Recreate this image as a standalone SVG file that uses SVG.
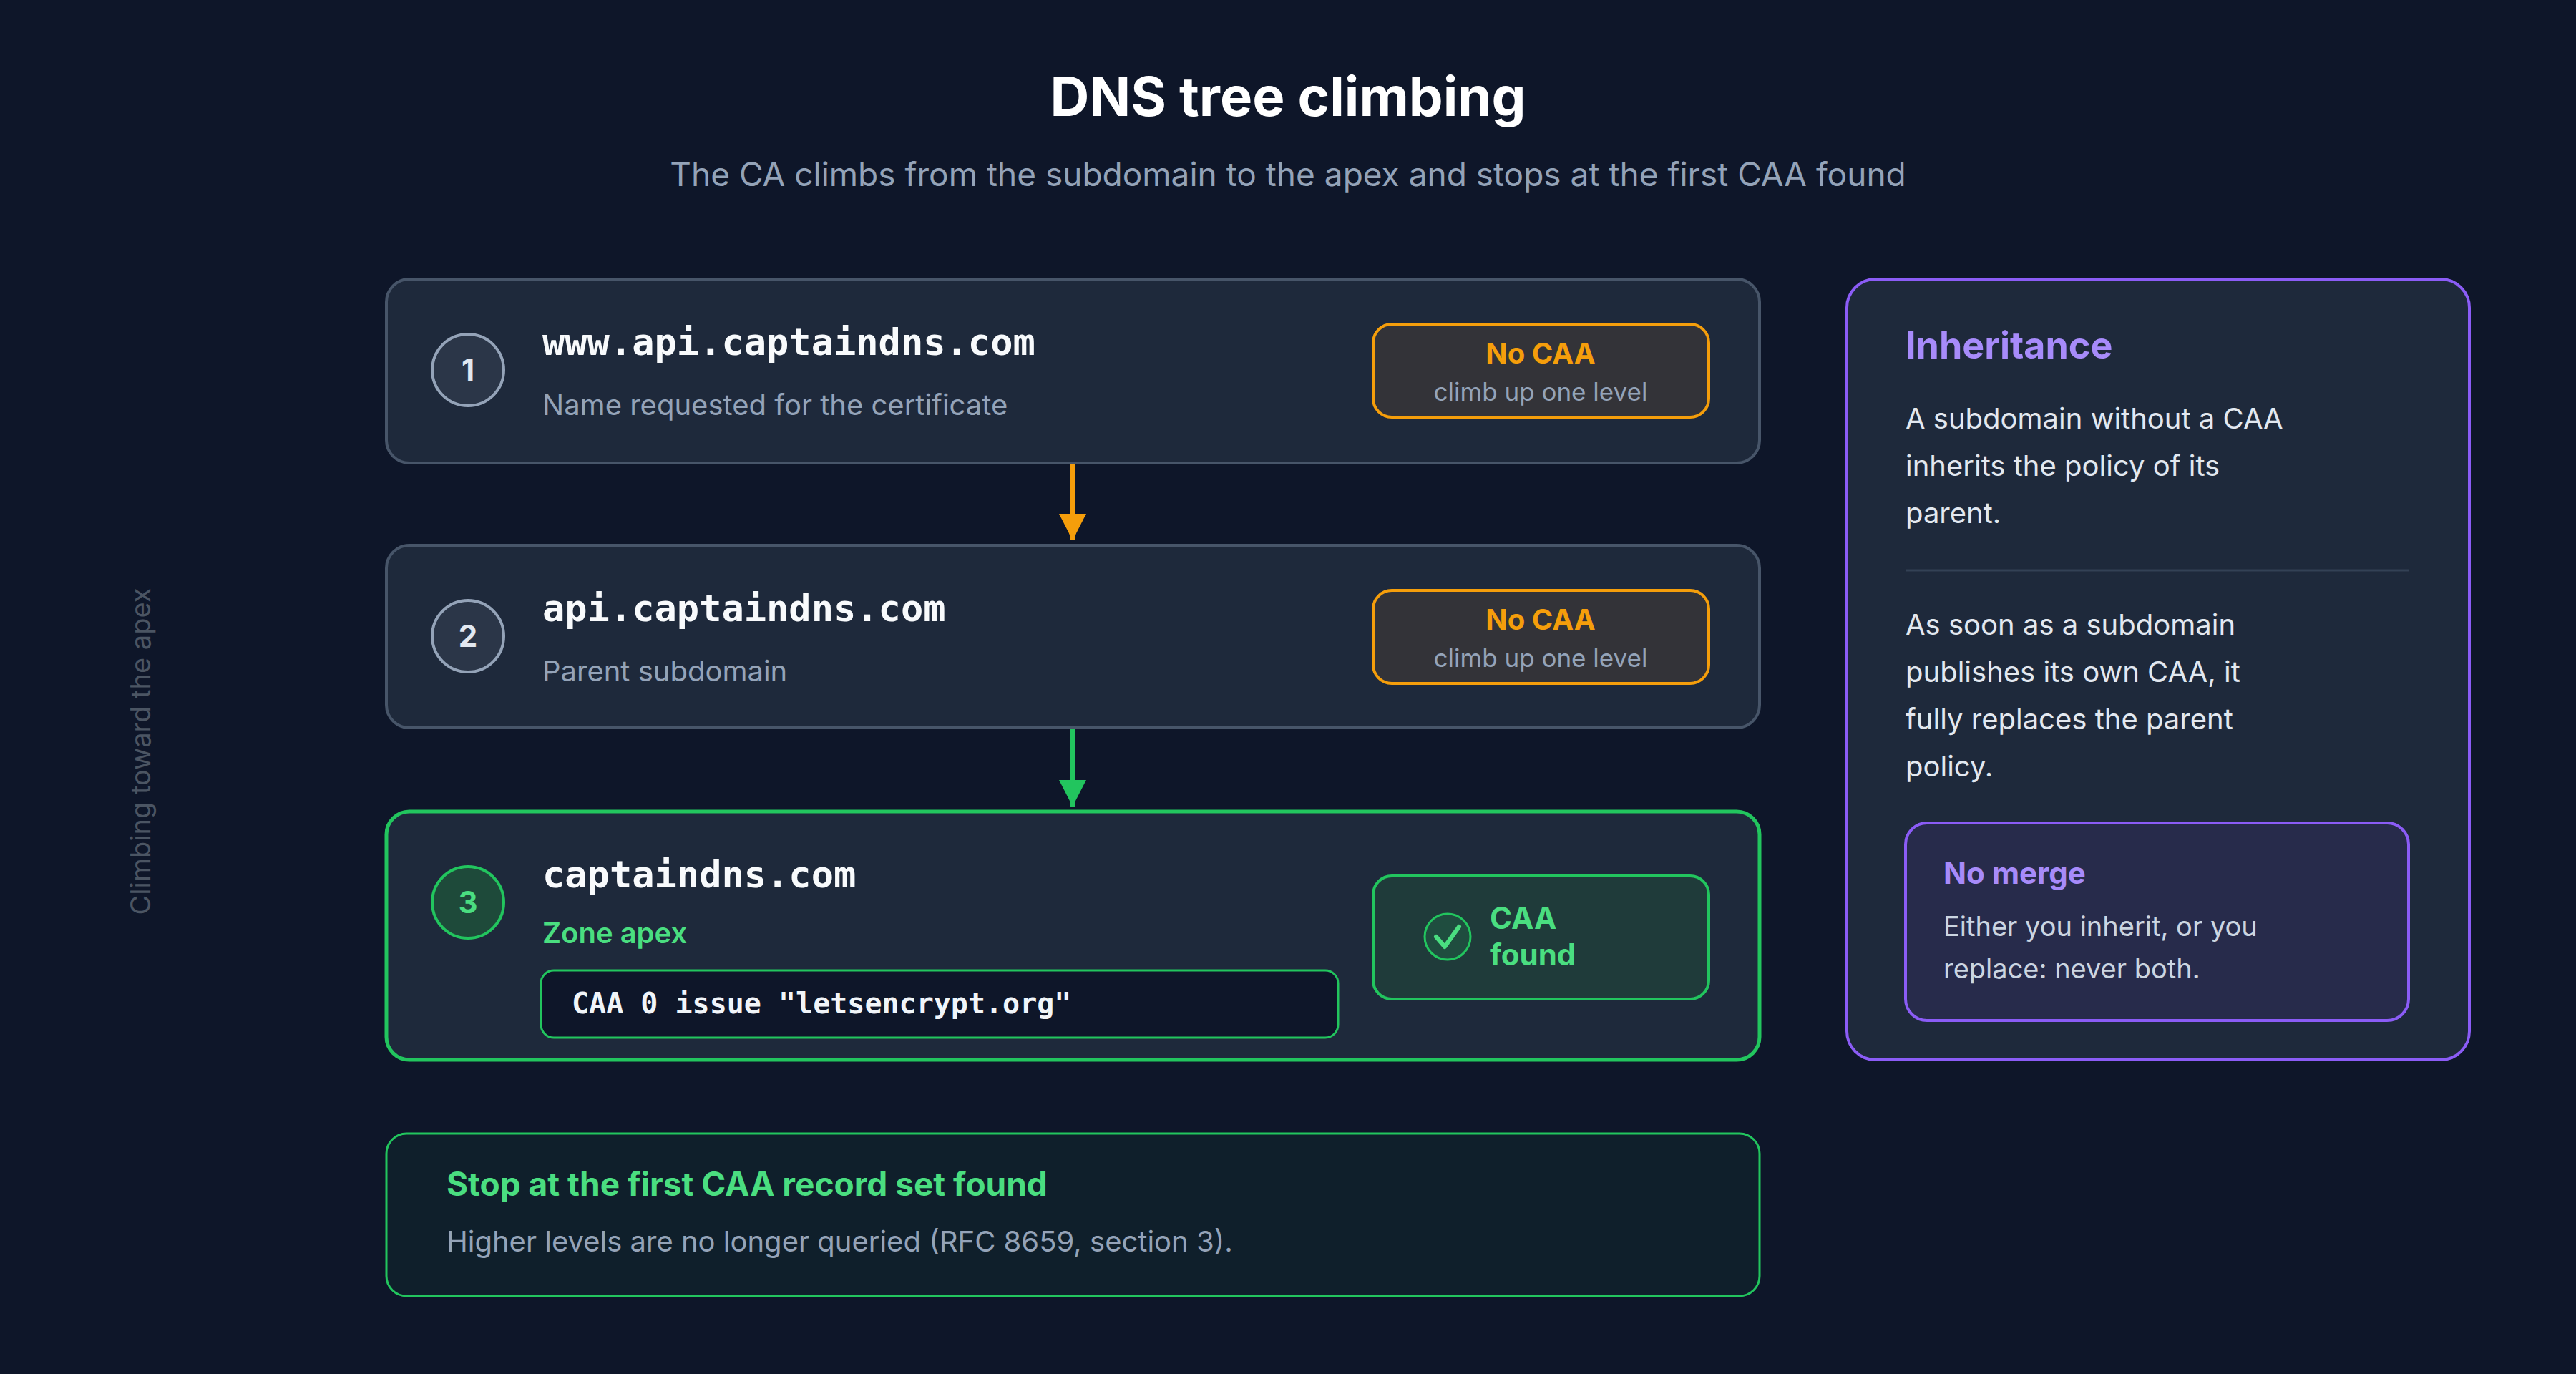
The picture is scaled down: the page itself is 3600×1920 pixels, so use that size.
<svg xmlns="http://www.w3.org/2000/svg" width="3600" height="1920" viewBox="0 0 3600 1920">
<defs>
<style>
.s{font-family:Inter,"Noto Sans","Liberation Sans",sans-serif}
.m{font-family:"DejaVu Sans Mono","Liberation Mono",monospace;font-weight:bold}
.card{fill:#1e293b;stroke:#475569;stroke-width:4}
.nocaa{fill:#333338;stroke:#f59e0b;stroke-width:4}
.num{fill:#2b3648;stroke:#94a3b8;stroke-width:4}
.dom{fill:#f8fafc;font-size:52px}
.sub{fill:#94a3b8;font-size:40px}
.bt{fill:#f59e0b;font-size:40px;font-weight:bold}
.bs{fill:#94a3b8;font-size:35px}
.body{fill:#e2e8f0;font-size:40px}
</style>
<marker id="ao" viewBox="0 0 10 10" refX="10" refY="5" markerWidth="10" markerHeight="10" markerUnits="userSpaceOnUse" orient="auto"><path d="M0,0 L10,5 L0,10 z" fill="#f59e0b"/></marker>
<marker id="ag" viewBox="0 0 10 10" refX="10" refY="5" markerWidth="10" markerHeight="10" markerUnits="userSpaceOnUse" orient="auto"><path d="M0,0 L10,5 L0,10 z" fill="#22c55e"/></marker>
</defs>
<rect width="3600" height="1920" fill="#0e1629"/>
<text class="s" x="1800" y="162" text-anchor="middle" font-size="76" font-weight="bold" fill="#ffffff">DNS tree climbing</text>
<text class="s" x="1800" y="260" text-anchor="middle" font-size="46" fill="#94a3b8">The CA climbs from the subdomain to the apex and stops at the first CAA found</text>
<text class="s" transform="translate(210,1050) rotate(-90)" text-anchor="middle" font-size="38" fill="#4b5563">Climbing toward the apex</text>

<g id="connectors">
<line x1="1499" y1="647" x2="1499" y2="755" stroke="#f59e0b" stroke-width="6" marker-end="url(#ao)"/>
<path d="M1480,718 L1518,718 L1499,755 z" fill="#f59e0b"/>
<line x1="1499" y1="1017" x2="1499" y2="1127" stroke="#22c55e" stroke-width="6"/>
<path d="M1480,1090 L1518,1090 L1499,1127 z" fill="#22c55e"/>
</g>

<g id="node1">
<rect class="card" x="540" y="390" width="1919" height="257" rx="32"/>
<circle class="num" cx="654" cy="517" r="50"/>
<text class="s" x="654" y="532" text-anchor="middle" font-size="42" font-weight="bold" fill="#e2e8f0">1</text>
<text class="m dom" x="758" y="496">www.api.captaindns.com</text>
<text class="s sub" x="758" y="580">Name requested for the certificate</text>
<rect class="nocaa" x="1919" y="453" width="469" height="130" rx="26"/>
<text class="s bt" x="2153" y="508" text-anchor="middle">No CAA</text>
<text class="s bs" x="2153" y="560" text-anchor="middle">climb up one level</text>
</g>

<g id="node2">
<rect class="card" x="540" y="762" width="1919" height="255" rx="32"/>
<circle class="num" cx="654" cy="889" r="50"/>
<text class="s" x="654" y="904" text-anchor="middle" font-size="42" font-weight="bold" fill="#e2e8f0">2</text>
<text class="m dom" x="758" y="868">api.captaindns.com</text>
<text class="s sub" x="758" y="952">Parent subdomain</text>
<rect class="nocaa" x="1919" y="825" width="469" height="130" rx="26"/>
<text class="s bt" x="2153" y="880" text-anchor="middle">No CAA</text>
<text class="s bs" x="2153" y="932" text-anchor="middle">climb up one level</text>
</g>

<g id="node3">
<rect x="540" y="1134" width="1919" height="347" rx="32" fill="#1e293b" stroke="#22c55e" stroke-width="5"/>
<circle cx="654" cy="1261" r="50" fill="#1e4a3a" stroke="#22c55e" stroke-width="4"/>
<text class="s" x="654" y="1276" text-anchor="middle" font-size="42" font-weight="bold" fill="#4ade80">3</text>
<text class="m dom" x="758" y="1240">captaindns.com</text>
<text class="s" x="758" y="1318" font-size="40" font-weight="600" fill="#4ade80">Zone apex</text>
<rect x="756" y="1356" width="1114" height="94" rx="18" fill="#0e1629" stroke="#22c55e" stroke-width="3"/>
<text class="m" x="799" y="1416" font-size="40" fill="#f1f5f9">CAA 0 issue "letsencrypt.org"</text>
<rect x="1919" y="1224" width="469" height="172" rx="26" fill="#1f3b3a" stroke="#22c55e" stroke-width="4"/>
<circle cx="2023" cy="1309" r="32" fill="#1f4d3f" stroke="#22c55e" stroke-width="3"/>
<path d="M2007,1309 L2019,1323 L2039,1295" fill="none" stroke="#4ade80" stroke-width="6" stroke-linecap="round" stroke-linejoin="round"/>
<text class="s" x="2082" y="1298" font-size="42" font-weight="bold" fill="#4ade80">CAA</text>
<text class="s" x="2082" y="1349" font-size="42" font-weight="bold" fill="#4ade80">found</text>
</g>

<g id="stop">
<rect x="540" y="1584" width="1919" height="227" rx="28" fill="#0f1f2b" stroke="#22c55e" stroke-width="3"/>
<text class="s" x="624" y="1671" font-size="46" font-weight="bold" fill="#4ade80">Stop at the first CAA record set found</text>
<text class="s sub" x="624" y="1749">Higher levels are no longer queried (RFC 8659, section 3).</text>
</g>

<g id="inheritance">
<rect x="2581" y="390" width="870" height="1091" rx="40" fill="#1e293b" stroke="#8b5cf6" stroke-width="4"/>
<text class="s" x="2663" y="501" font-size="52" font-weight="bold" fill="#a78bfa">Inheritance</text>
<text class="s body" x="2663" y="599">A subdomain without a CAA</text>
<text class="s body" x="2663" y="665">inherits the policy of its</text>
<text class="s body" x="2663" y="731">parent.</text>
<line x1="2663" y1="797" x2="3366" y2="797" stroke="#334155" stroke-width="3"/>
<text class="s body" x="2663" y="887">As soon as a subdomain</text>
<text class="s body" x="2663" y="953">publishes its own CAA, it</text>
<text class="s body" x="2663" y="1019">fully replaces the parent</text>
<text class="s body" x="2663" y="1085">policy.</text>
<g id="nomerge">
<rect x="2663" y="1150" width="703" height="276" rx="30" fill="#272b4b" stroke="#8b5cf6" stroke-width="4"/>
<text class="s" x="2716" y="1235" font-size="42" font-weight="bold" fill="#a78bfa">No merge</text>
<text class="s" x="2716" y="1308" font-size="38" fill="#cbd5e1">Either you inherit, or you</text>
<text class="s" x="2716" y="1367" font-size="38" fill="#cbd5e1">replace: never both.</text>
</g>
</g>
</svg>
